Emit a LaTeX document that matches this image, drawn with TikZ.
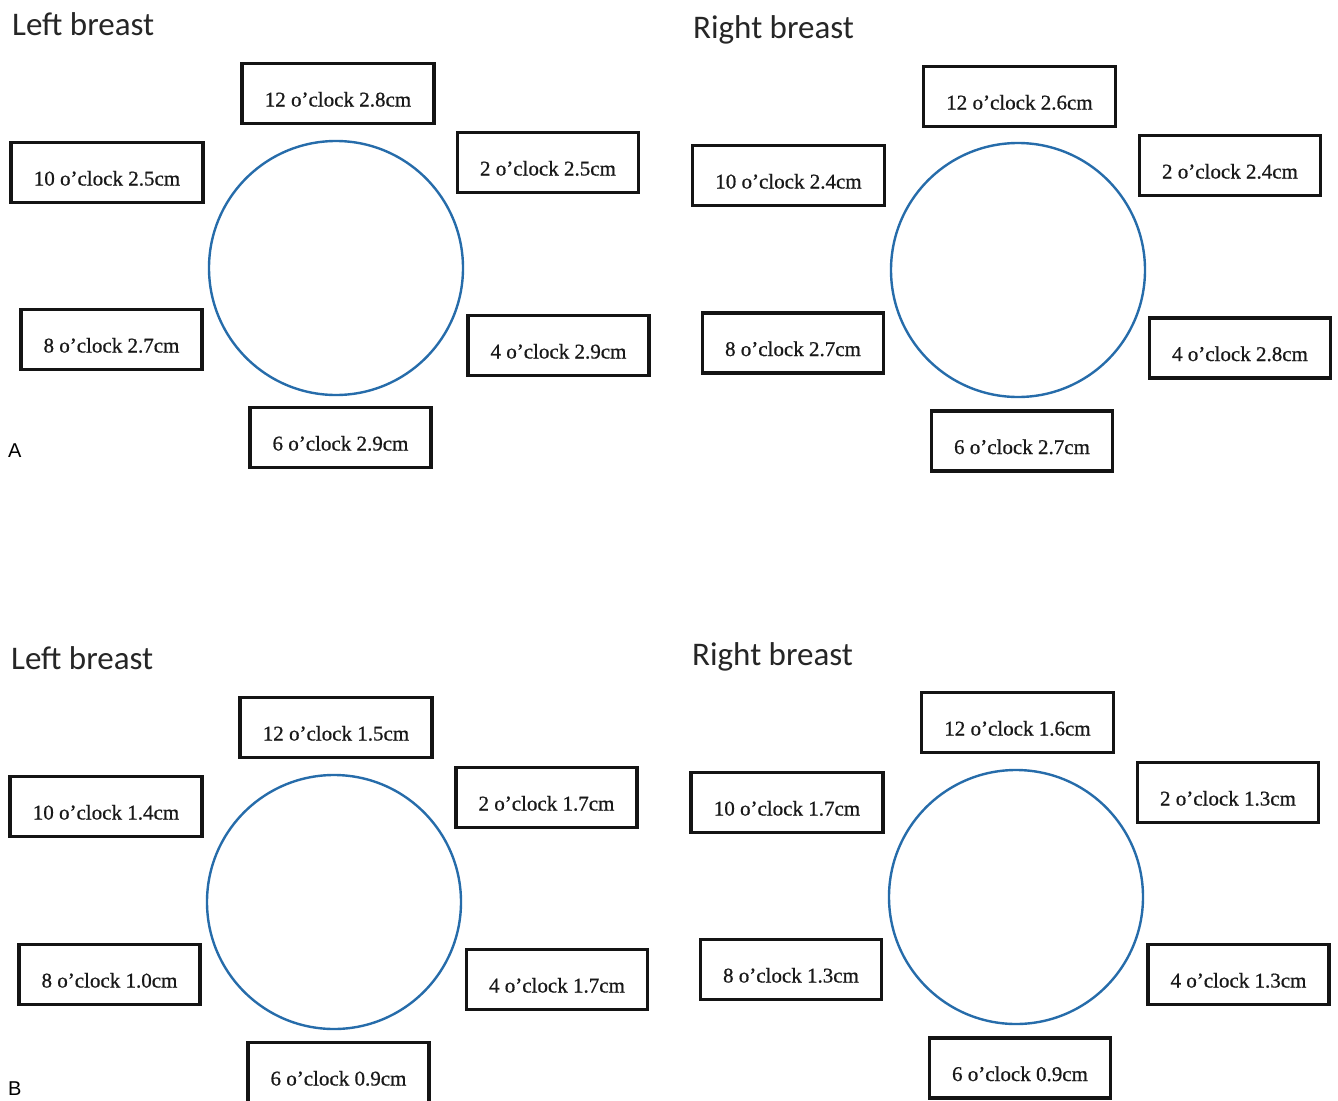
\documentclass[tikz,border=0pt]{standalone}
\usepackage{fontspec}
\setmainfont{Liberation Serif}
\newfontfamily\boxfont[FakeBold=0.7]{Liberation Serif}
\newfontfamily\titlefont{Carlito}
\newfontfamily\labfont{Liberation Sans}
\definecolor{ringblue}{RGB}{38,108,170}
\definecolor{boxline}{RGB}{20,20,20}
\begin{document}
\begin{tikzpicture}[x=1pt,y=-1pt,
  clockbox/.style={draw=boxline, line width=3.2pt, minimum height=60pt,
    inner sep=0pt, text height=28pt, text depth=2pt, text=black!90,
    font=\boxfont\fontsize{21}{25}\selectfont},
  wbig/.style={clockbox, minimum width=192pt},
  wsmall/.style={clockbox, minimum width=181pt},
  ring/.style={circle, draw=ringblue, line width=2.4pt, minimum size=254pt, inner sep=0pt},
  paneltitle/.style={anchor=base west, inner sep=0pt, font=\titlefont\fontsize{33}{38}\selectfont, text=black!85},
  panellabel/.style={anchor=base west, inner sep=0pt, font=\labfont\fontsize{20}{22}\selectfont}
]
\useasboundingbox (0,0) rectangle (1338,1100);
\clip (0,0) rectangle (1338,1100);
\fill[white] (0,0) rectangle (1338,1100);

% ---------- Panel A, left ----------
\node[paneltitle] (tAL) at (12,35) {Left breast};
\node[ring] (cAL) at (336,268) {};
\node[wbig]   (AL12) at (338,93.5)   {12 o’clock 2.8cm};
\node[wbig]   (AL10) at (107,172.5)  {10 o’clock 2.5cm};
\node[wsmall] (AL2)  at (548,162.5)  {2 o’clock 2.5cm};
\node[wsmall] (AL8)  at (111.5,339.5){8 o’clock 2.7cm};
\node[wsmall] (AL4)  at (558.5,345.5){4 o’clock 2.9cm};
\node[wsmall] (AL6)  at (340.5,437.5){6 o’clock 2.9cm};
\node[panellabel] (labA) at (8,457) {A};

% ---------- Panel A, right ----------
\node[paneltitle] (tAR) at (693,38) {Right breast};
\node[ring] (cAR) at (1018,270) {};
\node[wbig]   (AR12) at (1019.5,96.5) {12 o’clock 2.6cm};
\node[wbig]   (AR10) at (788.5,175.5) {10 o’clock 2.4cm};
\node[wsmall] (AR2)  at (1230,165.5)  {2 o’clock 2.4cm};
\node[wsmall] (AR8)  at (793,343)     {8 o’clock 2.7cm};
\node[wsmall] (AR4)  at (1240,348)    {4 o’clock 2.8cm};
\node[wsmall] (AR6)  at (1022,441)    {6 o’clock 2.7cm};

% ---------- Panel B, left ----------
\node[paneltitle] (tBL) at (11,669) {Left breast};
\node[ring] (cBL) at (334,902) {};
\node[wbig]   (BL12) at (336,727.5)   {12 o’clock 1.5cm};
\node[wbig]   (BL10) at (106,806.5)   {10 o’clock 1.4cm};
\node[wsmall] (BL2)  at (546.5,797.5) {2 o’clock 1.7cm};
\node[wsmall] (BL8)  at (109.5,974.5) {8 o’clock 1.0cm};
\node[wsmall] (BL4)  at (557,979.5)   {4 o’clock 1.7cm};
\node[wsmall] (BL6)  at (338.5,1072.5){6 o’clock 0.9cm};
\node[panellabel] (labB) at (8,1095) {B};

% ---------- Panel B, right ----------
\node[paneltitle] (tBR) at (692,665) {Right breast};
\node[ring] (cBR) at (1016,897) {};
\node[wbig]   (BR12) at (1017.5,722.5) {12 o’clock 1.6cm};
\node[wbig]   (BR10) at (787,802.5)    {10 o’clock 1.7cm};
\node[wsmall] (BR2)  at (1228,792.5)   {2 o’clock 1.3cm};
\node[wsmall] (BR8)  at (791,969.5)    {8 o’clock 1.3cm};
\node[wsmall] (BR4)  at (1238.5,974.5) {4 o’clock 1.3cm};
\node[wsmall] (BR6)  at (1020,1068)    {6 o’clock 0.9cm};
\end{tikzpicture}
\end{document}
